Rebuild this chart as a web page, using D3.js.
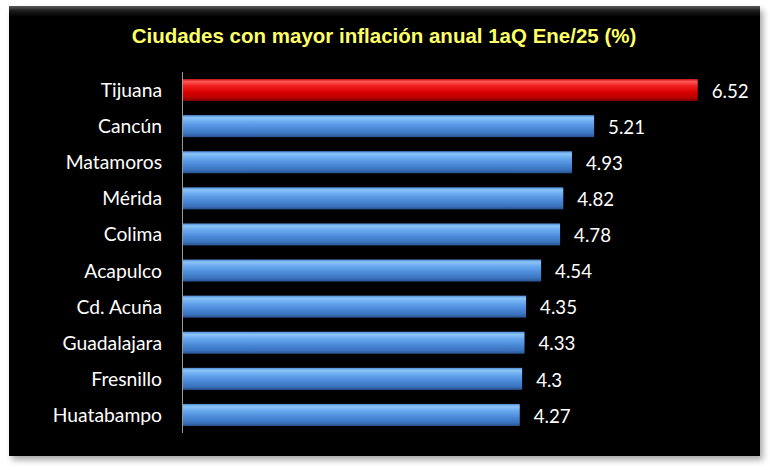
<!DOCTYPE html>
<html><head><meta charset="utf-8">
<script src="https://cdn.jsdelivr.net/npm/d3@7"></script>
<style>html,body{margin:0;padding:0;background:#fff;}svg{display:block;}</style>
</head><body>
<script>
const cities = ["Tijuana","Cancún","Matamoros","Mérida","Colima","Acapulco","Cd. Acuña","Guadalajara","Fresnillo","Huatabampo"];
const values = [6.52,5.21,4.93,4.82,4.78,4.54,4.35,4.33,4.3,4.27];
const valueLabels = ["6.52","5.21","4.93","4.82","4.78","4.54","4.35","4.33","4.3","4.27"];
const highlight = ["Tijuana"];
const title = "Ciudades con mayor inflación anual 1aQ Ene/25 (%)";

const W = 770, H = 470;
const svg = d3.select("body").append("svg").attr("width", W).attr("height", H);
const defs = svg.append("defs");

const sh = defs.append("filter").attr("id","shadow").attr("x","-5%").attr("y","-5%").attr("width","110%").attr("height","115%");
sh.append("feGaussianBlur").attr("in","SourceAlpha").attr("stdDeviation",3);
sh.append("feOffset").attr("dx",3).attr("dy",4).attr("result","b");
sh.append("feComponentTransfer").append("feFuncA").attr("type","linear").attr("slope",0.35);
const m = sh.append("feMerge"); m.append("feMergeNode"); m.append("feMergeNode").attr("in","SourceGraphic");

function grad(id, stops){
  const g = defs.append("linearGradient").attr("id",id).attr("x1",0).attr("y1",0).attr("x2",0).attr("y2",1);
  stops.forEach(s=>g.append("stop").attr("offset",s[0]).attr("stop-color",s[1]));
}
grad("blue",[[0,"#4f8fd8"],[0.12,"#8cc4f7"],[0.3,"#6aaaf0"],[0.6,"#4a8ad8"],[0.85,"#3a72bd"],[1,"#28528c"]]);
grad("red",[[0,"#d01010"],[0.12,"#ff5a5a"],[0.3,"#f02020"],[0.6,"#d80000"],[0.85,"#b80000"],[1,"#780000"]]);
grad("bevel",[[0,"#5a5a5a"],[0.5,"#1a1a1a"],[1,"#050505"]]);

// panel
svg.append("rect").attr("x",9).attr("y",6).attr("width",751).attr("height",450).attr("fill","#050505").attr("filter","url(#shadow)");
svg.append("rect").attr("x",9).attr("y",6).attr("width",751).attr("height",10).attr("fill","url(#bevel)");

svg.append("text").attr("x",384).attr("y",43).attr("text-anchor","middle")
  .attr("font-family","Liberation Sans, Arial, sans-serif").attr("font-weight","bold").attr("font-size",20.5)
  .attr("fill","#ffff66").text(title);

const x = d3.scaleLinear().domain([0,7]).range([182,735.7]);
const y = d3.scaleBand().domain(cities).range([72,433]).paddingInner(0.39).paddingOuter(0.195);

svg.append("g").selectAll("rect").data(cities).join("rect")
  .attr("x", x(0)).attr("y", d=>y(d)).attr("height", y.bandwidth())
  .attr("width", (d,i)=>x(values[i])-x(0))
  .attr("fill", d=>highlight.includes(d)?"url(#red)":"url(#blue)");

const ax = svg.append("g").attr("transform",`translate(${x(0)},0)`).call(d3.axisLeft(y).tickSize(0).tickPadding(20));
ax.select(".domain").attr("stroke","#999").attr("d","M0.5,72V433");
ax.selectAll("text").attr("fill","#fff").attr("font-family","Lato, Carlito, sans-serif").attr("font-size",19.3).attr("dy","0.36em");

svg.append("g").selectAll("text").data(cities).join("text")
  .attr("x",(d,i)=>x(values[i])+14).attr("y",d=>y(d)+y.bandwidth()/2+1).attr("dy","0.36em")
  .attr("fill","#fff").attr("font-family","Lato, Carlito, sans-serif").attr("font-size",18.7)
  .text((d,i)=>valueLabels[i]);
</script>
</body></html>
